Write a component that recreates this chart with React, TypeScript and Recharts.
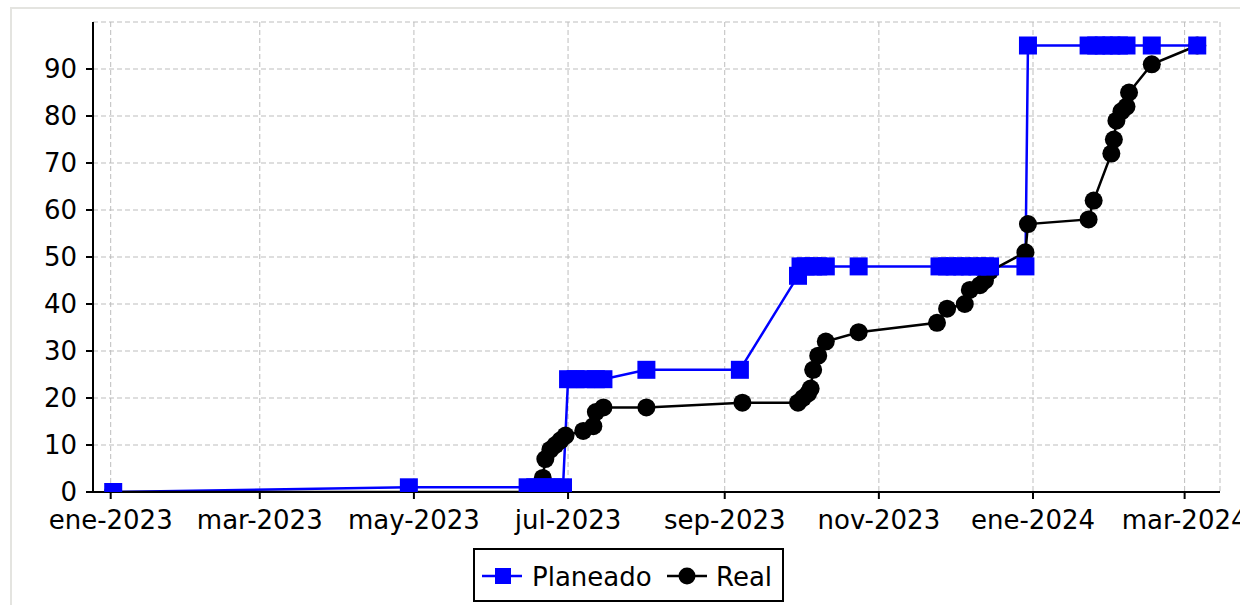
import React from 'react';
import { LineChart, Line, XAxis, YAxis, CartesianGrid, Legend } from 'recharts';

const planDates = [
  '2023-01-02', '2023-04-29',
  '2023-06-15', '2023-06-18', '2023-06-22', '2023-06-25', '2023-06-29',
  '2023-07-01', '2023-07-04', '2023-07-08', '2023-07-12', '2023-07-15',
  '2023-08-01', '2023-09-07', '2023-09-30',
  '2023-10-01', '2023-10-03', '2023-10-06', '2023-10-08', '2023-10-11',
  '2023-10-24',
  '2023-11-25', '2023-11-28', '2023-12-01', '2023-12-04', '2023-12-07', '2023-12-10', '2023-12-13', '2023-12-15',
  '2023-12-29', '2023-12-30',
  '2024-01-23', '2024-01-26', '2024-01-29', '2024-02-01', '2024-02-04', '2024-02-07',
  '2024-02-17', '2024-03-06',
];
const planValues = [
  0, 1,
  1, 1, 1, 1, 1,
  24, 24, 24, 24, 24,
  26, 26, 46,
  48, 48, 48, 48, 48,
  48,
  48, 48, 48, 48, 48, 48, 48, 48,
  48, 95,
  95, 95, 95, 95, 95, 95,
  95, 95,
];

const realDates = [
  '2023-01-02', '2023-06-17', '2023-06-21', '2023-06-22', '2023-06-24', '2023-06-26', '2023-06-28', '2023-06-30',
  '2023-07-07', '2023-07-11', '2023-07-12', '2023-07-15', '2023-08-01', '2023-09-08',
  '2023-09-30', '2023-10-02', '2023-10-04', '2023-10-05', '2023-10-06', '2023-10-08', '2023-10-11',
  '2023-10-24', '2023-11-24', '2023-11-28', '2023-12-05', '2023-12-07', '2023-12-11', '2023-12-13', '2023-12-15',
  '2023-12-29', '2023-12-30',
  '2024-01-23', '2024-01-25', '2024-02-01', '2024-02-02', '2024-02-03', '2024-02-05', '2024-02-07', '2024-02-08',
  '2024-02-17', '2024-03-06',
];
const realValues = [
  0, 0, 3, 7, 9, 10, 11, 12,
  13, 14, 17, 18, 18, 19,
  19, 20, 21, 22, 26, 29, 32,
  34, 36, 39, 40, 43, 44, 45, 47,
  51, 57,
  58, 62, 72, 75, 79, 81, 82, 85,
  91, 95,
];

const xTickDates = ['2023-01-01', '2023-03-01', '2023-05-01', '2023-07-01', '2023-09-01', '2023-11-01', '2024-01-01', '2024-03-01'];
const yTicks = [0, 10, 20, 30, 40, 50, 60, 70, 80, 90];
const monthNames = ['ene', 'feb', 'mar', 'abr', 'may', 'jun', 'jul', 'ago', 'sep', 'oct', 'nov', 'dic'];
const xDomainDates = ['2022-12-25', '2024-03-15'];
const yDomain = [0, 100];

const toMs = (s: string) => {
  const [y, m, d] = s.split('-').map(Number);
  return Date.UTC(y, m - 1, d);
};

const planData = planDates.map((d, i) => ({ t: toMs(d), v: planValues[i] }));
const realData = realDates.map((d, i) => ({ t: toMs(d), v: realValues[i] }));
const xTicks = xTickDates.map(toMs);
const xDomain = xDomainDates.map(toMs);

const fmtTick = (ms: number) => {
  const dt = new Date(ms);
  return `${monthNames[dt.getUTCMonth()]}-${dt.getUTCFullYear()}`;
};

const FONT = "'DejaVu Sans', Verdana, sans-serif";
const BLUE = '#0000ff';

const SquareDot = (props: any) => {
  const { cx, cy, index } = props;
  if (cx == null || cy == null) return <g key={`sq-${index}`} />;
  return <rect key={`sq-${index}`} x={cx - 9} y={cy - 9} width={18} height={18} fill={BLUE} />;
};

const LegendBox = () => (
  <svg width={311} height={54} style={{ display: 'block' }}>
    <rect x={1} y={1} width={309} height={52} fill="#fff" stroke="#000" strokeWidth={2} />
    <line x1={9} x2={49} y1={28} y2={28} stroke={BLUE} strokeWidth={2.5} />
    <rect x={22} y={20} width={16} height={16} fill={BLUE} />
    <text x={59} y={29} dominantBaseline="central" fontFamily={FONT} fontSize={26} fill="#000">Planeado</text>
    <line x1={194} x2={234} y1={28} y2={28} stroke="#000" strokeWidth={2.5} />
    <circle cx={214} cy={28} r={8.5} fill="#000" />
    <text x={243} y={29} dominantBaseline="central" fontFamily={FONT} fontSize={26} fill="#000">Real</text>
  </svg>
);

export default function App() {
  return (
    <div style={{ position: 'absolute', left: 0, top: 0, width: 1240, height: 605, overflow: 'hidden', background: '#fff' }}>
      <div
        style={{
          position: 'absolute',
          left: 10,
          top: 7,
          width: 1230,
          height: 598,
          borderTop: '2px solid #e4e4e0',
          borderLeft: '2px solid #e4e4e0',
          boxSizing: 'border-box',
        }}
      />
      <div style={{ position: 'absolute', left: 0, top: 0 }}>
        <LineChart
          width={1240}
          height={605}
          margin={{ top: 22, right: 20, left: 0, bottom: 73 }}
          style={{ fontFamily: FONT }}
        >
          <XAxis
            dataKey="t"
            type="number"
            domain={xDomain}
            ticks={xTicks}
            tickFormatter={fmtTick}
            allowDataOverflow
            height={40}
            axisLine={{ stroke: '#000', strokeWidth: 2 }}
            tickLine={{ stroke: '#000', strokeWidth: 2 }}
            tickSize={7}
            tickMargin={12}
            tick={{ fill: '#000', fontSize: 26, fontFamily: FONT }}
            interval={0}
          />
          <YAxis
            dataKey="v"
            type="number"
            domain={yDomain}
            ticks={yTicks}
            allowDataOverflow
            width={93}
            axisLine={{ stroke: '#000', strokeWidth: 2 }}
            tickLine={{ stroke: '#000', strokeWidth: 2 }}
            tickSize={7}
            tickMargin={9}
            tick={{ fill: '#000', fontSize: 26, fontFamily: FONT }}
            interval={0}
          />
          <CartesianGrid stroke="#bdbdbd" strokeDasharray="5 3" strokeWidth={1} />
          <Line
            data={planData}
            dataKey="v"
            name="Planeado"
            type="linear"
            stroke={BLUE}
            strokeWidth={2.5}
            dot={false}
            activeDot={false}
            isAnimationActive={false}
          />
          <Line
            data={realData}
            dataKey="v"
            name="Real"
            type="linear"
            stroke="#000"
            strokeWidth={2.5}
            dot={{ r: 9, fill: '#000', stroke: 'none' }}
            activeDot={false}
            isAnimationActive={false}
          />
          <Line
            data={planData}
            dataKey="v"
            name="PlaneadoMarkers"
            type="linear"
            stroke="none"
            strokeWidth={0}
            dot={SquareDot}
            activeDot={false}
            legendType="none"
            isAnimationActive={false}
          />
          <Legend
            layout="horizontal"
            verticalAlign="middle"
            align="center"
            content={() => <LegendBox />}
            wrapperStyle={{ left: 473, top: 548, width: 311, height: 54 }}
          />
        </LineChart>
      </div>
    </div>
  );
}
